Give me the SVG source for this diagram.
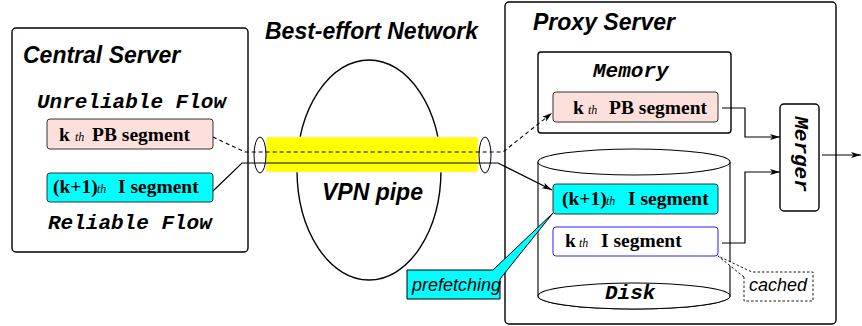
<svg xmlns="http://www.w3.org/2000/svg" width="862" height="326" viewBox="0 0 862 326">
<defs>
<style>
.box{fill:#fff;stroke:#000;stroke-width:1.4}
.title{font-family:"Liberation Sans",Arial,sans-serif;font-weight:bold;font-style:italic;font-size:23px;fill:#000}
.mono{font-family:"Liberation Mono","Courier New",monospace;font-weight:bold;font-style:italic;font-size:21px;fill:#000}
.seg{font-family:"Liberation Serif","Times New Roman",serif;font-weight:bold;font-size:19.5px;fill:#000}
.th{font-family:"Liberation Serif","Times New Roman",serif;font-style:italic;font-weight:normal;font-size:12px}
.note{font-family:"Liberation Sans",Arial,sans-serif;font-style:italic;font-size:18px;fill:#000}
.pb{fill:#fde0dc;stroke:#333;stroke-width:1}
.iseg{fill:#00ffff;stroke:#333;stroke-width:1}
.line{fill:none;stroke:#000;stroke-width:1.2}
.dash{fill:none;stroke:#000;stroke-width:1.1;stroke-dasharray:4 3}
</style>
<marker id="arr" markerUnits="userSpaceOnUse" viewBox="0 0 10 6" markerWidth="10" markerHeight="6" refX="10" refY="3" orient="auto">
<path d="M0,0 L10,3 L0,6 L2.5,3 z" fill="#000"/>
</marker>
</defs>
<rect width="862" height="326" fill="#fff"/>

<g id="central-server">
<rect class="box" x="12" y="28" width="236" height="224" rx="4"/>
<text class="title" x="23" y="63">Central Server</text>
<text class="mono" x="37" y="108">Unreliable Flow</text>
<text class="mono" x="48" y="229">Reliable Flow</text>
</g>
<g id="left-pb">
<rect class="pb" x="47" y="119" width="166" height="30" rx="3"/>
<text class="seg" y="141"><tspan x="59">k</tspan><tspan class="th" x="75">th</tspan><tspan x="92">PB segment</tspan></text>
</g>
<g id="left-i">
<rect class="iseg" x="47" y="173" width="166" height="29" rx="3"/>
<text class="seg" y="193"><tspan x="53">(k+1)</tspan><tspan class="th" x="97">th</tspan><tspan x="118">I segment</tspan></text>
</g>

<g id="network">
<text class="title" x="265" y="39">Best-effort Network</text>
<ellipse cx="369" cy="170" rx="72" ry="110" fill="#fff" stroke="#000" stroke-width="1.4"/>
<text class="title" x="322" y="200">VPN pipe</text>
</g>
<g id="vpn-pipe">
<rect x="266" y="137" width="212" height="35" rx="2" fill="#ffff00" stroke="#ffe4e4" stroke-width="0.8"/>
<ellipse cx="260" cy="155" rx="6" ry="18" fill="none" stroke="#000" stroke-width="1"/>
<ellipse cx="485" cy="155" rx="6" ry="18" fill="none" stroke="#000" stroke-width="1"/>
</g>

<g id="proxy-server">
<rect class="box" x="505" y="2" width="331" height="322" rx="4"/>
<text class="title" x="533" y="30">Proxy Server</text>
</g>
<g id="memory">
<rect class="box" x="538" y="52" width="193" height="81" rx="3" stroke-width="1.1"/>
<text class="mono" x="593" y="77">Memory</text>
</g>
<g id="mem-pb">
<rect class="pb" x="553" y="92" width="165" height="30" rx="3"/>
<text class="seg" y="114"><tspan x="573">k</tspan><tspan class="th" x="588">th</tspan><tspan x="609">PB segment</tspan></text>
</g>
<g id="disk">
<path d="M538,162 L538,296 A96,13 0 0 0 730,296 L730,162" fill="#fff" stroke="#000" stroke-width="1.1"/>
<ellipse cx="634" cy="296" rx="96" ry="13" fill="#fff" stroke="#000" stroke-width="1.1"/>
<ellipse cx="634" cy="162" rx="96" ry="13" fill="#fff" stroke="#000" stroke-width="1.1"/>
<text class="mono" x="605" y="299">Disk</text>
</g>
<g id="disk-i1">
<rect class="iseg" x="553" y="184" width="165" height="30" rx="3"/>
<text class="seg" y="205"><tspan x="562">(k+1)</tspan><tspan class="th" x="606">th</tspan><tspan x="628">I segment</tspan></text>
</g>
<g id="disk-i0">
<rect x="553" y="227" width="165" height="29" rx="3" fill="#fff" stroke="#2020ff" stroke-width="1"/>
<text class="seg" y="247"><tspan x="565">k</tspan><tspan class="th" x="579">th</tspan><tspan x="601">I segment</tspan></text>
</g>
<g id="merger">
<rect class="box" x="780" y="104" width="39" height="107" rx="4"/>
<text class="mono" transform="translate(800,154) rotate(90)" text-anchor="middle" dominant-baseline="central" font-style="normal">Merger</text>
</g>

<g id="prefetching">
<path d="M407,270 L493,270 L553,213 L500,279 L500,299 L407,299 Z" fill="#00ffff" stroke="#000" stroke-width="1"/>
<text class="note" x="412" y="291">prefetching</text>
</g>
<g id="cached">
<path d="M744,277 L718,256 L752,272 L813,272 L813,301 L744,301 Z" fill="#fff" stroke="#000" stroke-width="0.9" stroke-dasharray="2.5 2"/>
<text class="note" x="749" y="291">cached</text>
</g>

<g id="connectors">
<path class="dash" d="M213,137 L245,152 L503,152 L552,113" marker-end="url(#arr)"/>
<path class="line" d="M213,191 L242,163 L498,163 L552,190" marker-end="url(#arr)"/>
<path class="line" d="M722,108 L745,108 L745,137 L780,137" marker-end="url(#arr)"/>
<path class="line" d="M722,243 L745,243 L745,172 L780,172" marker-end="url(#arr)"/>
<path class="line" d="M822,155 L861,155" marker-end="url(#arr)"/>
</g>
</svg>
